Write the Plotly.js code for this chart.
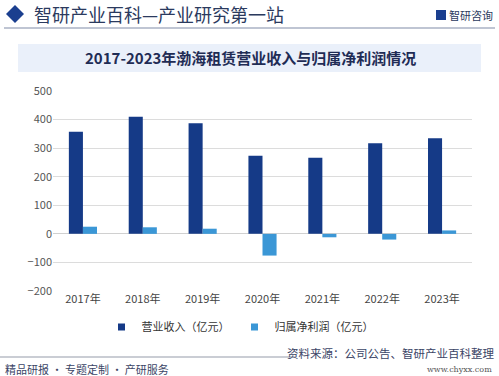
<!DOCTYPE html>
<html><head><meta charset="utf-8">
<script src="https://cdn.plot.ly/plotly-3.0.1.min.js"></script>
<style>html,body{margin:0;padding:0;background:#fff;}#c{width:499px;height:376px;}</style>
</head><body><div id="c"></div>
<script>
const years = ['2017年','2018年','2019年','2020年','2021年','2022年','2023年'];
const revenue = [357, 410, 387, 273, 266, 317, 335];
const netProfit = [25, 23, 18, -76, -12, -20, 12];
const seriesNames = ['营业收入（亿元）','归属净利润（亿元）'];
const yTicks = [-200,-100,0,100,200,300,400,500];

const W = 499, H = 376;
const L = 53, R = 27, T = 91, B = 85;
const PW = W - L - R, PH = H - T - B;
function px(x){return (x - L)/PW;}
function py(y){return (H - B - y)/PH;}

const font = "Noto Sans CJK SC, Noto Sans, sans-serif";
const c1 = '#153a87', c2 = '#3b97d6';
const data = [
 {type:'bar', x:years, y:revenue, name:seriesNames[0], marker:{color:c1}, showlegend:false},
 {type:'bar', x:years, y:netProfit, name:seriesNames[1], marker:{color:c2}, showlegend:false},
 {type:'scatter', mode:'markers', x:[null], y:[null], name:seriesNames[0], marker:{symbol:'square', size:7, color:c1}},
 {type:'scatter', mode:'markers', x:[null], y:[null], name:seriesNames[1], marker:{symbol:'square', size:7, color:c2}}
];
const layout = {
 width:W, height:H, margin:{l:L,r:R,t:T,b:B},
 paper_bgcolor:'#fff', plot_bgcolor:'#fff',
 barmode:'group', bargap:0.53, bargroupgap:0,
 font:{family:font, size:11, color:'#555'},
 xaxis:{type:'category', categoryarray:years, showgrid:false, zeroline:false, showline:false, ticks:'', tickfont:{size:11,color:'#444'}},
 yaxis:{range:[-200,500], tickvals:yTicks, showgrid:true, gridcolor:'#dcdcdc', gridwidth:1, zeroline:true, zerolinecolor:'#d0d0d0', zerolinewidth:1, tickfont:{size:11,color:'#555'}, ticklen:0, ticks:''},
 showlegend:true,
 legend:{orientation:'h', x:px(240), xanchor:'center', y:py(327), yanchor:'middle', font:{size:11,color:'#333'}, itemwidth:30, traceorder:'normal', tracegroupgap:0, bgcolor:'rgba(0,0,0,0)'},
 shapes:[
  {type:'path', xref:'paper', yref:'paper', path:`M ${px(6)} ${py(14)} L ${px(15)} ${py(5)} L ${px(24)} ${py(14)} L ${px(15)} ${py(23)} Z`, fillcolor:'#1b3f8f', line:{width:0}},
  {type:'line', xref:'paper', yref:'paper', x0:px(4), x1:px(495), y0:py(28), y1:py(28), line:{color:'#aab2c4', width:1.5}},
  {type:'rect', xref:'paper', yref:'paper', x0:px(18), x1:px(481), y0:py(44), y1:py(72), fillcolor:'#eaf0fa', line:{width:0}, layer:'below'},
  {type:'line', xref:'paper', yref:'paper', x0:px(0), x1:px(296), y0:py(357), y1:py(357), line:{color:'#b9bcc6', width:1.5}},
  {type:'rect', xref:'paper', yref:'paper', x0:px(436), x1:px(446), y0:py(10), y1:py(20), fillcolor:'#1b3f8f', line:{width:0}}
 ],
 annotations:[
  {xref:'paper', yref:'paper', x:px(32), y:py(14), xanchor:'left', yanchor:'middle', showarrow:false, text:'智研产业百科—产业研究第一站', font:{family:font, size:18, color:'#2b3a5e'}},
  {xref:'paper', yref:'paper', x:px(495), y:py(15), xanchor:'right', yanchor:'middle', showarrow:false, text:'智研咨询', font:{family:font, size:11, color:'#2b3a5e'}},
  {xref:'paper', yref:'paper', x:px(250), y:py(58), xanchor:'center', yanchor:'middle', showarrow:false, text:'<b>2017-2023年渤海租赁营业收入与归属净利润情况</b>', font:{family:font, size:15, color:'#1f2c55'}},
  {xref:'paper', yref:'paper', x:px(496), y:py(353), xanchor:'right', yanchor:'middle', showarrow:false, text:'资料来源：公司公告、智研产业百科整理', font:{family:font, size:11.5, color:'#3b4566'}},
  {xref:'paper', yref:'paper', x:px(494), y:py(369), xanchor:'right', yanchor:'middle', showarrow:false, text:'www.chyxx.com', font:{family:'DejaVu Serif, serif', size:8, color:'#555'}},
  {xref:'paper', yref:'paper', x:px(3), y:py(369), xanchor:'left', yanchor:'middle', showarrow:false, text:'精品研报 · 专题定制 · 产研服务', font:{family:font, size:11, color:'#3b4566'}}
 ]
};
Plotly.newPlot('c', data, layout, {displayModeBar:false, staticPlot:true});
</script></body></html>
